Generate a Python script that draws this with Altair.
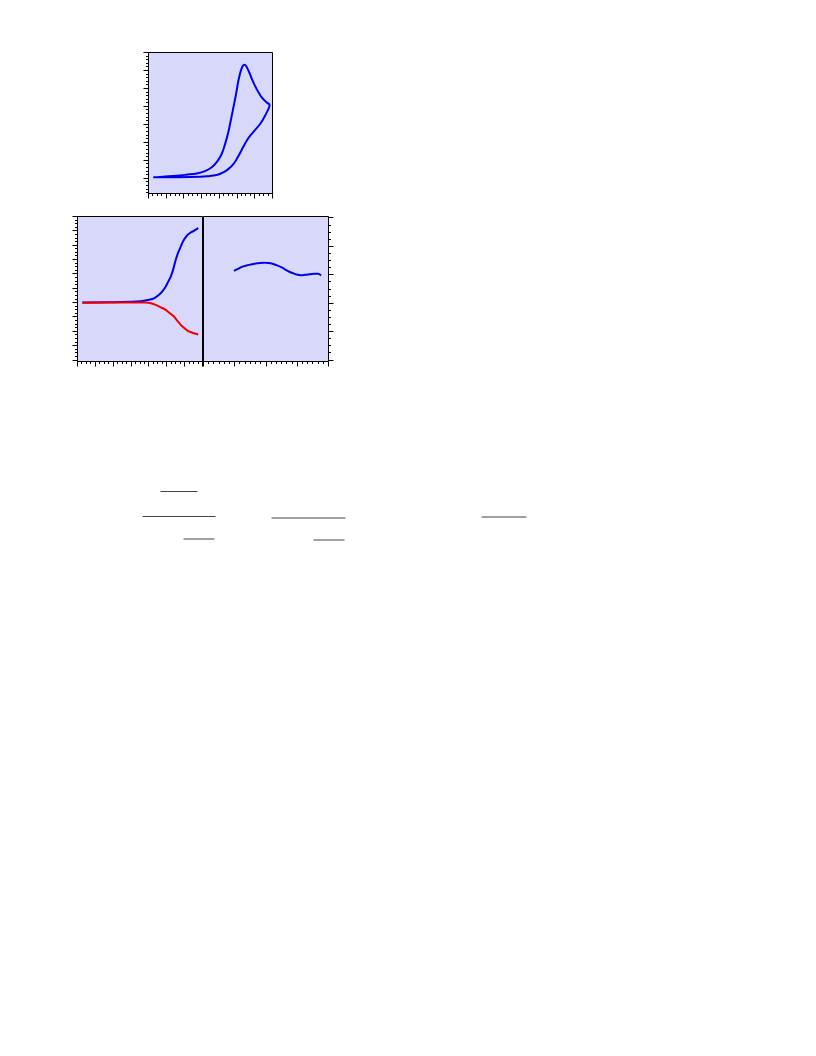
import altair as alt
import pandas as pd

LAV = "#d8d8fa"
BLUE = "#0000f0"
RED = "#f00000"

# ---- Panel A (top): closed loop, outgoing branch then returning branch
a_out_x = [0.30, 1.24, 2.37, 3.31, 3.88, 4.25, 4.53, 4.82, 5.01, 5.19, 5.38, 5.57, 5.76, 6.04, 6.32, 6.60, 6.86]
a_out_y = [0.02, 0.03, 0.04, 0.08, 0.15, 0.30, 0.48, 0.76, 1.04, 1.36, 1.72, 2.06, 2.33, 2.65, 2.98, 3.44, 4.07]
a_ret_x = [6.70, 6.42, 6.14, 5.91, 5.72, 5.57, 5.48, 5.38, 5.25, 5.10, 4.97, 4.82, 4.67, 4.53, 4.35, 4.16, 3.91, 3.60, 3.22, 2.75, 2.18, 1.62, 0.86, 0.30]
a_ret_y = [4.19, 4.47, 4.93, 5.39, 5.86, 6.17, 6.28, 6.26, 5.98, 5.39, 4.65, 3.91, 3.17, 2.52, 1.87, 1.32, 0.91, 0.58, 0.37, 0.24, 0.17, 0.11, 0.06, 0.02]

# ---- Panel B (bottom-left): blue rises, red falls
b_blue_x = [0.30, 1.79, 3.29, 3.75, 4.03, 4.31, 4.59, 4.78, 4.97, 5.10, 5.25, 5.38, 5.53, 5.66, 5.81, 5.94, 6.09, 6.22, 6.37, 6.55, 6.79]
b_blue_y = [-0.03, -0.01, 0.04, 0.09, 0.16, 0.26, 0.51, 0.75, 1.09, 1.41, 1.78, 2.25, 2.95, 3.43, 3.87, 4.23, 4.53, 4.72, 4.85, 4.97, 5.15]
b_red_x = [0.30, 1.79, 3.85, 4.14, 4.41, 4.69, 4.97, 5.21, 5.43, 5.62, 5.81, 5.99, 6.18, 6.38, 6.55, 6.79]
b_red_y = [-0.05, -0.03, -0.03, -0.08, -0.19, -0.36, -0.54, -0.78, -1.00, -1.30, -1.58, -1.79, -1.98, -2.10, -2.17, -2.26]

# ---- Panel C (bottom-right): gentle wave
c_x = [0.99, 1.12, 1.24, 1.39, 1.56, 1.74, 1.93, 2.06, 2.20, 2.35, 2.52, 2.66, 2.78, 2.90, 3.00, 3.14, 3.26, 3.42, 3.58, 3.68, 3.78]
c_y = [0.12, 0.19, 0.26, 0.31, 0.35, 0.39, 0.41, 0.40, 0.38, 0.32, 0.24, 0.15, 0.08, 0.03, -0.01, -0.03, -0.02, 0.00, 0.02, 0.02, -0.04]

# ---- Fraction bars below the panels (page positions)
seg_x1 = [160, 142, 183, 271, 313, 481]
seg_x2 = [197, 215, 214, 345, 344, 526]
seg_y = [491.5, 516.5, 539, 518, 540, 517]

MAJOR = "abs(datum.value - round(datum.value)) < 0.001"


def tick_vals(lo, hi, step):
    n = int(round((hi - lo) / step))
    return [round(lo + i * step, 6) for i in range(n + 1)]


def axis(orient, vals):
    return alt.Axis(
        orient=orient, values=vals, labels=False, title=None, grid=False,
        domain=True, domainColor="black", domainWidth=1,
        ticks=True, tickColor="black", tickWidth=1,
        tickSize={"condition": {"test": MAJOR, "value": 5}, "value": 2.5},
    )


view_bg = alt.ViewBackground(fill=LAV, stroke="black", strokeWidth=1)

# Panel A
dfa = pd.DataFrame({
    "x": a_out_x + a_ret_x,
    "y": a_out_y + a_ret_y,
    "o": list(range(len(a_out_x) + len(a_ret_x))),
})
top = alt.Chart(dfa).mark_line(color=BLUE, strokeWidth=2, interpolate="catmull-rom").encode(
    x=alt.X("x:Q", scale=alt.Scale(domain=[0, 7], nice=False, zero=False),
            axis=axis("bottom", tick_vals(0, 7, 0.25))),
    y=alt.Y("y:Q", scale=alt.Scale(domain=[-0.85, 7.0], nice=False, zero=False),
            axis=axis("left", tick_vals(-0.8, 7.0, 0.2))),
    order="o:Q",
).properties(width=124, height=141, view=view_bg)

spacer = alt.Chart(pd.DataFrame({"v": [0]})).mark_point(opacity=0).encode(
    x=alt.X("v:Q", axis=None), y=alt.Y("v:Q", axis=None)
).properties(width=64, height=141,
             view=alt.ViewBackground(fill="transparent", stroke="transparent"))

# Panel B
bx = alt.X("x:Q", scale=alt.Scale(domain=[0, 7], nice=False, zero=False),
           axis=axis("bottom", tick_vals(0, 7, 0.25)))
by = alt.Y("y:Q", scale=alt.Scale(domain=[-4.1, 6.0], nice=False, zero=False),
           axis=axis("left", tick_vals(-4.0, 6.0, 0.25)))
blue_b = alt.Chart(pd.DataFrame({"x": b_blue_x, "y": b_blue_y})).mark_line(
    color=BLUE, strokeWidth=2, interpolate="monotone").encode(x=bx, y=by)
red_b = alt.Chart(pd.DataFrame({"x": b_red_x, "y": b_red_y})).mark_line(
    color=RED, strokeWidth=2, interpolate="monotone").encode(x=bx, y=by)
bl = alt.layer(blue_b, red_b).properties(width=125, height=145, view=view_bg)

# Panel C
br = alt.Chart(pd.DataFrame({"x": c_x, "y": c_y})).mark_line(
    color=BLUE, strokeWidth=2, interpolate="monotone").encode(
    x=alt.X("x:Q", scale=alt.Scale(domain=[0, 4], nice=False, zero=False),
            axis=axis("bottom", tick_vals(0, 4, 1 / 6))),
    y=alt.Y("y:Q", scale=alt.Scale(domain=[-3.05, 2.05], nice=False, zero=False),
            axis=axis("right", tick_vals(-3.0, 2.0, 0.25))),
).properties(width=125, height=145, view=view_bg)

# Fraction bars
dfs = pd.DataFrame({"x1": seg_x1, "x2": seg_x2, "y": seg_y})
bars = alt.Chart(dfs).mark_rule(color="#444444", strokeWidth=1).encode(
    x=alt.X("x1:Q", scale=alt.Scale(domain=[76.5, 546.5], nice=False, zero=False), axis=None),
    x2="x2:Q",
    y=alt.Y("y:Q", scale=alt.Scale(domain=[384, 549], nice=False, zero=False, reverse=True), axis=None),
).properties(width=470, height=165,
             view=alt.ViewBackground(fill="transparent", stroke="transparent"))

row1 = alt.hconcat(spacer, top, spacing=0)
row2 = alt.hconcat(bl, br, spacing=-1)

chart = alt.vconcat(row1, row2, bars, spacing=16).properties(
    padding={"left": 63, "top": 43, "right": 5, "bottom": 5}
).configure_view(stroke="transparent")

chart.save("out.html", embed_options={"renderer": "svg", "actions": False})
